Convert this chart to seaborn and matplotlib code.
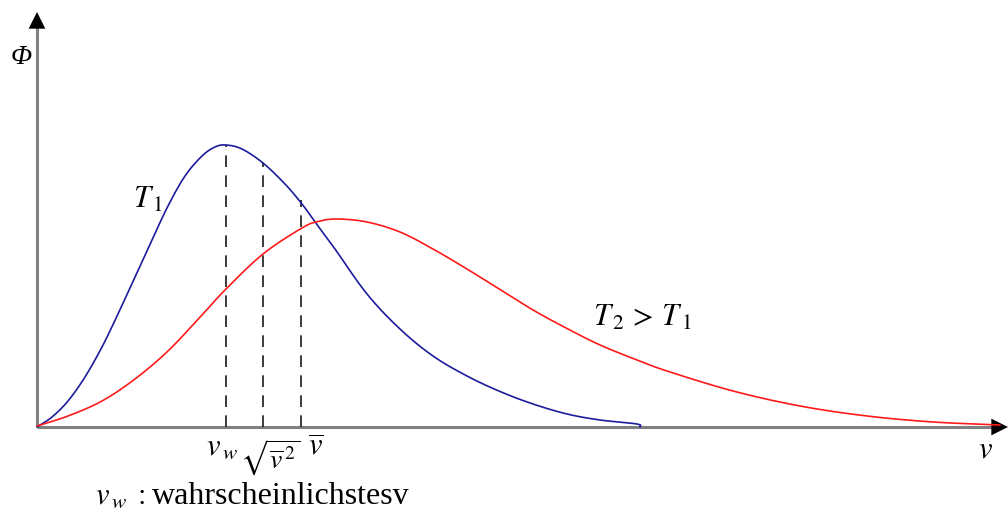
import matplotlib
matplotlib.use("Agg")
import matplotlib.pyplot as plt
import seaborn as sns
import numpy as np
import pandas as pd

sns.set_theme(style="white")
plt.rcParams["font.family"] = ["Liberation Serif", "DejaVu Serif"]
plt.rcParams["mathtext.fontset"] = "stix"
plt.rcParams["text.color"] = "black"

# Maxwell speed distribution sketch, read in units of speed v and density Phi
v_t1 = [0.00, 0.15, 0.31, 0.48, 0.65, 0.81, 0.98, 1.15, 1.31, 1.48, 1.65, 1.78, 1.89,
        2.05, 2.26, 2.48, 2.65, 2.81, 2.98, 3.30, 3.63, 3.96, 4.30, 4.63, 4.96, 5.30,
        5.63, 6.00, 6.03]
phi_t1 = [0.00, 0.10, 0.26, 0.50, 0.80, 1.13, 1.50, 1.87, 2.21, 2.51, 2.71, 2.80, 2.82,
          2.78, 2.64, 2.43, 2.23, 2.01, 1.78, 1.33, 0.98, 0.71, 0.51, 0.355, 0.23, 0.13,
          0.07, 0.03, 0.00]

v_t2 = [0.00, 0.31, 0.65, 0.98, 1.31, 1.65, 1.88, 2.26, 2.65, 2.81, 3.00, 3.30, 3.63,
        3.96, 4.30, 4.63, 4.96, 5.30, 5.63, 6.00, 6.30, 6.96, 7.63, 8.30, 8.96, 9.63]
phi_t2 = [0.01, 0.11, 0.26, 0.48, 0.76, 1.12, 1.37, 1.73, 1.99, 2.055, 2.08, 2.05, 1.95,
          1.78, 1.58, 1.375, 1.17, 0.985, 0.82, 0.67, 0.56, 0.36, 0.21, 0.11, 0.05, 0.02]

# characteristic speeds of T1 and the curve height reached above each
speed_names = ["v_w", "v_rms", "v_mean"]
speed_values = [1.89, 2.26, 2.64]
speed_heights = [2.82, 2.64, 2.27]


def smooth_path(xs, ys, steps=12):
    """Catmull-Rom path through the given points, for a smooth stroke."""
    p = np.column_stack([xs, ys]).astype(float)
    p = np.vstack([2 * p[0] - p[1], p, 2 * p[-1] - p[-2]])
    t = np.linspace(0, 1, steps, endpoint=False)[:, None]
    out = []
    for i in range(1, len(p) - 2):
        p0, p1, p2, p3 = p[i - 1], p[i], p[i + 1], p[i + 2]
        seg = 0.5 * ((2 * p1) + (-p0 + p2) * t + (2 * p0 - 5 * p1 + 4 * p2 - p3) * t ** 2
                     + (-p0 + 3 * p1 - 3 * p2 + p3) * t ** 3)
        out.append(seg)
    out.append(p[-2][None, :])
    out = np.vstack(out)
    return pd.DataFrame({"v": out[:, 0], "phi": out[:, 1]})


df1 = smooth_path(v_t1, phi_t1)
df2 = smooth_path(v_t2, phi_t2)

fig = plt.figure(figsize=(10.08, 5.10), dpi=100)
ax = fig.add_axes([0, 0, 1, 1])
ax.set_xlim(-0.37, 9.71)
ax.set_ylim(-0.82, 4.28)
ax.axis("off")

# axes with arrow heads
ax.plot([0, 9.55], [0, 0], color="#808080", lw=2.2, solid_capstyle="butt", zorder=1)
ax.plot([0, 0], [0, 4.0], color="#808080", lw=2.2, solid_capstyle="butt", zorder=1)
ax.annotate("", xy=(9.71, 0), xytext=(9.50, 0),
            arrowprops=dict(arrowstyle="-|>,head_length=1.0,head_width=0.5",
                            color="black", lw=0, shrinkA=0, shrinkB=0))
ax.annotate("", xy=(0, 4.15), xytext=(0, 3.95),
            arrowprops=dict(arrowstyle="-|>,head_length=1.0,head_width=0.5",
                            color="black", lw=0, shrinkA=0, shrinkB=0))

sns.lineplot(data=df1, x="v", y="phi", ax=ax, color="#1c1c9c", lw=1.2, sort=False,
             estimator=None, zorder=3)
sns.lineplot(data=df2, x="v", y="phi", ax=ax, color="#ff1a1a", lw=1.2, sort=False,
             estimator=None, zorder=3)

for x, h in zip(speed_values, speed_heights):
    ax.plot([x, x], [0, h], color="#1a1a1a", lw=1.2, ls=(0, (7, 5)), zorder=2)

ax.text(-0.16, 3.71, "Φ", fontsize=20, fontstyle="italic", ha="center", va="center")
ax.text(9.48, -0.22, r"$v$", fontsize=22, ha="center", va="center")
ax.text(1.11, 2.28, r"$T_{\,1}$", fontsize=22, ha="center", va="center")
ax.text(6.05, 1.10, r"$T_{\,2}\, >\, T_{\,1}$", fontsize=22, ha="center", va="center")
ax.text(1.85, -0.19, r"$v_{\,w}$", fontsize=22, ha="center", va="center")
ax.text(2.33, -0.30, r"$\sqrt{\overline{v}^{\,2}}$", fontsize=20, ha="center", va="center")
ax.text(2.79, -0.20, r"$\overline{v}$", fontsize=22, ha="center", va="center")
ax.text(0.58, -0.68, r"$v_{\,w}\;:$", fontsize=22, ha="left", va="center")
ax.text(1.15, -0.69, "wahrscheinlichstesv", fontsize=23, ha="left", va="center")

fig.savefig("out.png", dpi=100)
